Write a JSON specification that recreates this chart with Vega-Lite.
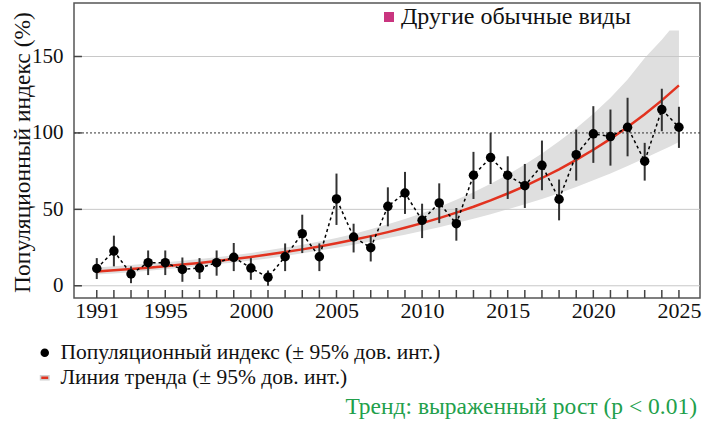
{
  "$schema": "https://vega.github.io/schema/vega-lite/v6.json",
  "width": 626,
  "height": 295,
  "autosize": {"type": "none"},
  "padding": {"left": 74, "top": 3, "right": 5, "bottom": 127},
  "background": "white",
  "config": {
    "font": "Liberation Serif",
    "view": {"stroke": "#555555", "strokeWidth": 1.5},
    "axis": {
      "grid": false,
      "domain": false,
      "ticks": false,
      "labelFont": "Liberation Serif",
      "labelColor": "#111111",
      "labelOverlap": false,
      "labelFlush": false,
      "labelBound": false
    },
    "axisX": {"labelFontSize": 22, "labelPadding": 2},
    "axisY": {"labelFontSize": 21, "labelPadding": 11}
  },
  "title": {
    "text": "Тренд: выраженный рост (p < 0.01)",
    "orient": "bottom",
    "anchor": "end",
    "frame": "group",
    "offset": 6,
    "dx": -3,
    "color": "#22a04b",
    "font": "Liberation Serif",
    "fontSize": 23.5,
    "fontWeight": "normal"
  },
  "datasets": {
    "main": [
      {"year": 1991, "idx": 11.3, "lo": 4.4, "hi": 18.1, "trend": 9.40},
      {"year": 1992, "idx": 22.7, "lo": 12.7, "hi": 32.8, "trend": 10.16},
      {"year": 1993, "idx": 7.7, "lo": 1.7, "hi": 12.7, "trend": 10.98},
      {"year": 1994, "idx": 15.1, "lo": 7.0, "hi": 23.1, "trend": 11.86},
      {"year": 1995, "idx": 15.1, "lo": 7.0, "hi": 23.1, "trend": 12.82},
      {"year": 1996, "idx": 10.7, "lo": 2.6, "hi": 18.5, "trend": 13.85},
      {"year": 1997, "idx": 11.6, "lo": 4.4, "hi": 18.1, "trend": 14.96},
      {"year": 1998, "idx": 15.1, "lo": 6.6, "hi": 23.1, "trend": 16.17},
      {"year": 1999, "idx": 18.6, "lo": 9.6, "hi": 28.0, "trend": 17.47},
      {"year": 2000, "idx": 11.6, "lo": 3.9, "hi": 18.1, "trend": 18.88},
      {"year": 2001, "idx": 5.5, "lo": 0.0, "hi": 10.0, "trend": 20.40},
      {"year": 2002, "idx": 19.0, "lo": 9.6, "hi": 27.7, "trend": 22.05},
      {"year": 2003, "idx": 34.1, "lo": 21.4, "hi": 46.5, "trend": 23.82},
      {"year": 2004, "idx": 19.0, "lo": 9.6, "hi": 27.7, "trend": 25.74},
      {"year": 2005, "idx": 56.8, "lo": 39.8, "hi": 73.4, "trend": 27.82},
      {"year": 2006, "idx": 31.9, "lo": 21.8, "hi": 40.6, "trend": 30.06},
      {"year": 2007, "idx": 24.9, "lo": 15.9, "hi": 32.8, "trend": 32.48},
      {"year": 2008, "idx": 52.0, "lo": 38.9, "hi": 64.4, "trend": 35.10},
      {"year": 2009, "idx": 60.7, "lo": 47.0, "hi": 74.5, "trend": 37.93},
      {"year": 2010, "idx": 42.8, "lo": 31.2, "hi": 53.7, "trend": 40.98},
      {"year": 2011, "idx": 54.2, "lo": 41.0, "hi": 67.0, "trend": 44.29},
      {"year": 2012, "idx": 40.6, "lo": 29.5, "hi": 50.9, "trend": 47.86},
      {"year": 2013, "idx": 72.3, "lo": 56.8, "hi": 87.6, "trend": 51.71},
      {"year": 2014, "idx": 83.9, "lo": 66.6, "hi": 100.0, "trend": 55.88},
      {"year": 2015, "idx": 72.3, "lo": 56.8, "hi": 84.7, "trend": 60.38},
      {"year": 2016, "idx": 65.5, "lo": 50.9, "hi": 79.7, "trend": 65.25},
      {"year": 2017, "idx": 78.8, "lo": 62.5, "hi": 95.0, "trend": 70.51},
      {"year": 2018, "idx": 56.6, "lo": 42.8, "hi": 69.5, "trend": 76.19},
      {"year": 2019, "idx": 85.8, "lo": 68.8, "hi": 102.2, "trend": 82.33},
      {"year": 2020, "idx": 99.4, "lo": 80.4, "hi": 117.5, "trend": 88.96},
      {"year": 2021, "idx": 97.6, "lo": 78.6, "hi": 115.3, "trend": 96.13},
      {"year": 2022, "idx": 103.7, "lo": 84.7, "hi": 123.0, "trend": 103.88},
      {"year": 2023, "idx": 81.5, "lo": 68.8, "hi": 93.5, "trend": 112.25},
      {"year": 2024, "idx": 115.3, "lo": 101.1, "hi": 128.9, "trend": 121.29},
      {"year": 2025, "idx": 103.7, "lo": 90.2, "hi": 117.1, "trend": 131.07}
    ],
    "band": [
      {"year": 1991, "blo": 7.3, "bhi": 12.0},
      {"year": 1992, "blo": 8.1, "bhi": 12.8},
      {"year": 1993, "blo": 8.9, "bhi": 13.6},
      {"year": 1994, "blo": 9.8, "bhi": 14.5},
      {"year": 1995, "blo": 10.8, "bhi": 15.4},
      {"year": 1996, "blo": 11.8, "bhi": 16.4},
      {"year": 1997, "blo": 12.9, "bhi": 17.5},
      {"year": 1998, "blo": 14.0, "bhi": 18.7},
      {"year": 1999, "blo": 15.2, "bhi": 20.0},
      {"year": 2000, "blo": 16.5, "bhi": 21.5},
      {"year": 2001, "blo": 17.9, "bhi": 23.2},
      {"year": 2002, "blo": 19.5, "bhi": 25.0},
      {"year": 2003, "blo": 21.2, "bhi": 26.9},
      {"year": 2004, "blo": 23.0, "bhi": 29.0},
      {"year": 2005, "blo": 24.8, "bhi": 31.3},
      {"year": 2006, "blo": 26.8, "bhi": 33.9},
      {"year": 2007, "blo": 29.0, "bhi": 36.9},
      {"year": 2008, "blo": 31.2, "bhi": 40.2},
      {"year": 2009, "blo": 33.4, "bhi": 43.7},
      {"year": 2010, "blo": 35.8, "bhi": 47.5},
      {"year": 2011, "blo": 38.3, "bhi": 51.6},
      {"year": 2012, "blo": 41.0, "bhi": 56.2},
      {"year": 2013, "blo": 43.8, "bhi": 61.2},
      {"year": 2014, "blo": 46.8, "bhi": 66.7},
      {"year": 2015, "blo": 50.0, "bhi": 72.7},
      {"year": 2016, "blo": 53.3, "bhi": 79.3},
      {"year": 2017, "blo": 56.8, "bhi": 86.5},
      {"year": 2018, "blo": 60.6, "bhi": 94.5},
      {"year": 2019, "blo": 64.6, "bhi": 103.0},
      {"year": 2020, "blo": 69.0, "bhi": 112.5},
      {"year": 2021, "blo": 73.5, "bhi": 123.0},
      {"year": 2022, "blo": 78.3, "bhi": 135.0},
      {"year": 2023, "blo": 83.4, "bhi": 149.0},
      {"year": 2024, "blo": 88.6, "bhi": 161.0},
      {"year": 2024.45, "blo": 91.0, "bhi": 167.0},
      {"year": 2025, "blo": 94.0, "bhi": 167.0}
    ],
    "yticks": [{"g": 0}, {"g": 50}, {"g": 100}, {"g": 150}]
  },
  "data": {"name": "main"},
  "layer": [
    {
      "data": {"name": "band"},
      "mark": {"type": "area", "color": "#dfdfdf"},
      "encoding": {
        "x": {
          "field": "year", "type": "quantitative",
          "scale": {"domain": [1989.67, 2026.23], "nice": false, "zero": false},
          "axis": {
            "values": [1991, 1995, 2000, 2005, 2010, 2015, 2020, 2025],
            "format": "d",
            "labelOverlap": false,
            "title": null
          }
        },
        "y": {
          "field": "blo", "type": "quantitative",
          "scale": {"domain": [-8, 185], "nice": false, "zero": false},
          "axis": {
            "values": [0, 50, 100, 150],
            "title": "Популяционный индекс (%)",
            "titleFont": "Liberation Serif",
            "titleFontSize": 23.5,
            "titleFontWeight": "normal",
            "titleColor": "#111111",
            "titleAngle": -90,
            "titleX": -45,
            "titleY": 149,
            "titleAlign": "center",
            "titleBaseline": "alphabetic"
          }
        },
        "y2": {"field": "bhi"}
      }
    },
    {
      "data": {"values": [{"g": 0}, {"g": 50}, {"g": 150}]},
      "mark": {"type": "rule", "color": "#c8c8c8", "strokeWidth": 1},
      "encoding": {
        "y": {"field": "g", "type": "quantitative", "title": "Популяционный индекс (%)"}
      }
    },
    {
      "data": {"values": [{"g": 100}]},
      "mark": {"type": "rule", "color": "#333333", "strokeWidth": 1, "strokeDash": [2, 2]},
      "encoding": {
        "y": {"field": "g", "type": "quantitative", "title": "Популяционный индекс (%)"}
      }
    },
    {
      "mark": {"type": "tick", "orient": "vertical", "size": 8, "thickness": 1.5, "color": "#444444", "opacity": 1},
      "encoding": {
        "x": {"field": "year", "type": "quantitative", "title": null},
        "y": {"datum": -5.4, "type": "quantitative", "title": "Популяционный индекс (%)"}
      }
    },
    {
      "data": {"name": "yticks"},
      "mark": {"type": "tick", "orient": "horizontal", "size": 8, "thickness": 1.5, "color": "#444444", "opacity": 1},
      "encoding": {
        "x": {"datum": 1989.9, "type": "quantitative", "title": null},
        "y": {"field": "g", "type": "quantitative", "title": "Популяционный индекс (%)"}
      }
    },
    {
      "mark": {"type": "line", "color": "#e2321f", "strokeWidth": 2.5},
      "encoding": {
        "x": {"field": "year", "type": "quantitative", "title": null},
        "y": {"field": "trend", "type": "quantitative", "title": "Популяционный индекс (%)"}
      }
    },
    {
      "mark": {"type": "rule", "color": "#333333", "strokeWidth": 2},
      "encoding": {
        "x": {"field": "year", "type": "quantitative", "title": null},
        "y": {"field": "lo", "type": "quantitative", "title": "Популяционный индекс (%)"},
        "y2": {"field": "hi"}
      }
    },
    {
      "mark": {"type": "line", "color": "#000000", "strokeWidth": 1.5, "strokeDash": [3, 3]},
      "encoding": {
        "x": {"field": "year", "type": "quantitative", "title": null},
        "y": {"field": "idx", "type": "quantitative", "title": "Популяционный индекс (%)"}
      }
    },
    {
      "mark": {"type": "point", "filled": true, "color": "#000000", "size": 90, "opacity": 1},
      "encoding": {
        "x": {"field": "year", "type": "quantitative", "title": null},
        "y": {"field": "idx", "type": "quantitative", "title": "Популяционный индекс (%)"}
      }
    },
    {
      "data": {"values": [{"sp": "Другие обычные виды", "year": 2000, "v": 0}]},
      "mark": {"type": "point", "filled": true, "opacity": 0},
      "encoding": {
        "x": {"field": "year", "type": "quantitative", "title": null},
        "y": {"field": "v", "type": "quantitative", "title": "Популяционный индекс (%)"},
        "color": {
          "field": "sp", "type": "nominal",
          "scale": {"range": ["#c9357f"]},
          "legend": {
            "orient": "none",
            "legendX": 303,
            "legendY": 2,
            "title": null,
            "padding": 0,
            "symbolType": "square",
            "symbolSize": 100,
            "symbolOpacity": 1,
            "symbolStrokeWidth": 0,
            "labelFont": "Liberation Serif",
            "labelFontSize": 24,
            "labelColor": "#111111",
            "labelOffset": 0,
            "labelLimit": 400
          }
        }
      }
    },
    {
      "data": {"values": [{"s": "Популяционный индекс (± 95% дов. инт.)", "year": 2000, "v": 0}, {"s": "Линия тренда (± 95% дов. инт.)", "year": 2000, "v": 0}]},
      "mark": {"type": "point", "opacity": 0},
      "encoding": {
        "x": {"field": "year", "type": "quantitative", "title": null},
        "y": {"field": "v", "type": "quantitative", "title": "Популяционный индекс (%)"},
        "fill": {
          "field": "s", "type": "nominal",
          "scale": {"domain": ["Популяционный индекс (± 95% дов. инт.)", "Линия тренда (± 95% дов. инт.)"], "range": ["#000000", "#e2321f"]},
          "legend": {
            "orient": "none",
            "legendX": -40,
            "legendY": 339,
            "title": null,
            "padding": 0,
            "rowPadding": 2,
            "symbolSize": 49,
            "symbolOpacity": 1,
            "symbolStrokeWidth": 1.5,
            "labelFont": "Liberation Serif",
            "labelFontSize": 21.5,
            "labelColor": "#111111",
            "labelOffset": 5,
            "labelLimit": 500
          }
        },
        "stroke": {
          "field": "s", "type": "nominal",
          "scale": {"domain": ["Популяционный индекс (± 95% дов. инт.)", "Линия тренда (± 95% дов. инт.)"], "range": ["#000000", "#cfcfcf"]},
          "legend": {
            "orient": "none",
            "legendX": -40,
            "legendY": 339,
            "title": null,
            "padding": 0,
            "rowPadding": 2,
            "symbolSize": 49,
            "symbolOpacity": 1,
            "symbolStrokeWidth": 1.5,
            "labelFont": "Liberation Serif",
            "labelFontSize": 21.5,
            "labelColor": "#111111",
            "labelOffset": 5,
            "labelLimit": 500
          }
        },
        "shape": {
          "field": "s", "type": "nominal",
          "scale": {"domain": ["Популяционный индекс (± 95% дов. инт.)", "Линия тренда (± 95% дов. инт.)"], "range": ["circle", "M-1.2,-0.6H1.2V0.6H-1.2Z"]},
          "legend": {
            "orient": "none",
            "legendX": -40,
            "legendY": 339,
            "title": null,
            "padding": 0,
            "rowPadding": 2,
            "symbolSize": 49,
            "symbolOpacity": 1,
            "symbolStrokeWidth": 1.5,
            "labelFont": "Liberation Serif",
            "labelFontSize": 21.5,
            "labelColor": "#111111",
            "labelOffset": 5,
            "labelLimit": 500
          }
        }
      }
    }
  ]
}
